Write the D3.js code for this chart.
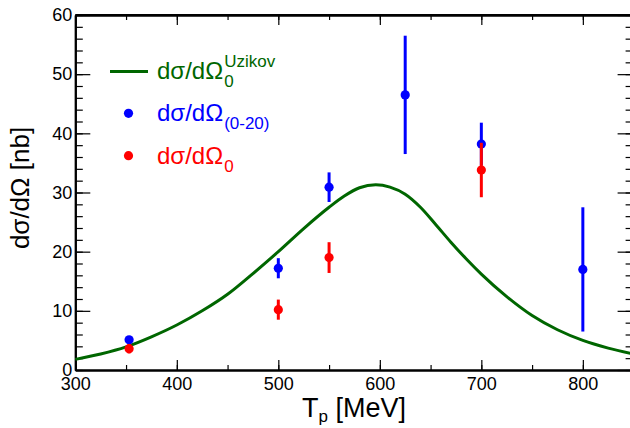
<!DOCTYPE html>
<html>
<head>
<meta charset="utf-8">
<script src="https://cdn.jsdelivr.net/npm/d3@7"></script>
<style>
  html, body { margin: 0; padding: 0; background: #fff; }
  svg { display: block; font-family: "Liberation Sans", Arial, Helvetica, sans-serif; }
</style>
</head>
<body>
<svg id="chart" width="630" height="428"></svg>
<script>
// Theory curve (Uzikov): beam kinetic energy [MeV] and cross section [nb]
const curveT = [300, 325, 350, 375, 400, 425, 450, 475, 500, 525, 550, 565, 580, 596, 610, 625, 640, 655, 670, 685, 700, 725, 750, 775, 800, 825, 850];
const curveXS = [1.8, 2.7, 3.9, 5.6, 7.6, 10.0, 12.8, 16.3, 20.0, 23.9, 27.5, 29.4, 30.8, 31.3, 30.9, 29.7, 27.5, 24.6, 21.6, 18.8, 16.2, 12.4, 9.2, 6.8, 5.0, 3.7, 2.7];

// Measured dσ/dΩ integrated over 0-20 degrees
const blueT = [353, 500, 550, 625, 700, 800];
const blueXS = [5.1, 17.2, 30.9, 46.5, 38.2, 17.0];
const blueErr = [0.6, 1.7, 2.5, 10.0, 3.6, 10.5];

// Measured dσ/dΩ at 0 degrees
const redT = [353, 500, 550, 700];
const redXS = [3.6, 10.2, 19.0, 33.8];
const redErr = [0.8, 1.7, 2.6, 4.6];

const xTicks = [300, 400, 500, 600, 700, 800];
const yTicks = [0, 10, 20, 30, 40, 50, 60];

const GREEN = "#006600", BLUE = "#0000ff", RED = "#ff0000";

const svg = d3.select("#chart");
const x = d3.scaleLinear().domain([300, 850]).range([75.3, 633.6]);
const y = d3.scaleLinear().domain([0, 60]).range([370, 15]);

const xMinor = d3.range(300, 851, 50);
const yMinor = d3.range(0, 61, 2);

// Frame: top and right edges
svg.append("line").attr("x1", x(300)).attr("x2", x(850)).attr("y1", y(60)).attr("y2", y(60))
  .attr("stroke", "#000").attr("stroke-width", 2);
svg.append("line").attr("x1", x(850)).attr("x2", x(850)).attr("y1", y(0)).attr("y2", y(60))
  .attr("stroke", "#000").attr("stroke-width", 2);

function styleAxis(g) {
  g.select(".domain").attr("stroke", "#000").attr("stroke-width", 2);
  g.selectAll(".tick line").attr("stroke", "#000").attr("stroke-width", 1.2);
  g.selectAll(".tick text").attr("fill", "#000").attr("font-size", 18)
    .attr("font-family", "'Liberation Sans', Arial, sans-serif");
}

// Bottom axis (labels) + minor ticks
svg.append("g").attr("transform", `translate(0,${y(0)})`)
  .call(d3.axisBottom(x).tickValues(xMinor).tickFormat("").tickSizeInner(-5).tickSizeOuter(0))
  .call(styleAxis);
svg.append("g").attr("transform", `translate(0,${y(0)})`)
  .call(d3.axisBottom(x).tickValues(xTicks).tickFormat(d3.format("d")).tickSizeInner(-10).tickSizeOuter(0).tickPadding(7))
  .call(styleAxis);

// Top axis ticks
svg.append("g").attr("transform", `translate(0,${y(60)})`)
  .call(d3.axisTop(x).tickValues(xMinor).tickFormat("").tickSizeInner(-5).tickSizeOuter(0))
  .call(styleAxis);
svg.append("g").attr("transform", `translate(0,${y(60)})`)
  .call(d3.axisTop(x).tickValues(xTicks).tickFormat("").tickSizeInner(-10).tickSizeOuter(0))
  .call(styleAxis);

// Left axis (labels) + minor ticks
svg.append("g").attr("transform", `translate(${x(300)},0)`)
  .call(d3.axisLeft(y).tickValues(yMinor).tickFormat("").tickSizeInner(-7.5).tickSizeOuter(0))
  .call(styleAxis);
svg.append("g").attr("transform", `translate(${x(300)},0)`)
  .call(d3.axisLeft(y).tickValues(yTicks).tickFormat(d3.format("d")).tickSizeInner(-15).tickSizeOuter(0).tickPadding(3))
  .call(styleAxis);

// Right axis ticks
svg.append("g").attr("transform", `translate(${x(850)},0)`)
  .call(d3.axisRight(y).tickValues(yMinor).tickFormat("").tickSizeInner(-8).tickSizeOuter(0))
  .call(styleAxis);
svg.append("g").attr("transform", `translate(${x(850)},0)`)
  .call(d3.axisRight(y).tickValues(yTicks).tickFormat("").tickSizeInner(-16).tickSizeOuter(0))
  .call(styleAxis);

// Theory curve
const line = d3.line().x((d, i) => x(curveT[i])).y(d => y(d)).curve(d3.curveMonotoneX);
svg.append("path").datum(curveXS).attr("d", line)
  .attr("fill", "none").attr("stroke", GREEN).attr("stroke-width", 3);

// Data points with error bars
function drawPoints(ts, vals, errs, color) {
  const g = svg.append("g");
  ts.forEach((t, i) => {
    g.append("line").attr("x1", x(t)).attr("x2", x(t))
      .attr("y1", y(vals[i] - errs[i])).attr("y2", y(vals[i] + errs[i]))
      .attr("stroke", color).attr("stroke-width", 3);
    g.append("circle").attr("cx", x(t)).attr("cy", y(vals[i])).attr("r", 4.6).attr("fill", color);
  });
}
drawPoints(blueT, blueXS, blueErr, BLUE);
drawPoints(redT, redXS, redErr, RED);

// Axis titles
const yTitle = svg.append("text").attr("transform", "translate(29,188) rotate(-90)")
  .attr("text-anchor", "middle").attr("font-size", 26).attr("fill", "#000");
yTitle.text("dσ/dΩ [nb]");

const xTitle = svg.append("text").attr("x", 354).attr("y", 417)
  .attr("text-anchor", "middle").attr("font-size", 27).attr("fill", "#000");
xTitle.append("tspan").text("T");
xTitle.append("tspan").attr("font-size", 17).attr("dy", 5).text("p");
xTitle.append("tspan").attr("dy", -5).text(" [MeV]");

// Legend
function legendLabel(yBase, color, sub, sup) {
  const main = svg.append("text").attr("x", 157).attr("y", yBase)
    .attr("font-size", 24).attr("fill", color).text("dσ/dΩ");
  const w = main.node().getComputedTextLength();
  if (sub) svg.append("text").attr("x", 157 + w + 1).attr("y", yBase + 8)
    .attr("font-size", 17).attr("fill", color).text(sub);
  if (sup) svg.append("text").attr("x", 157 + w + 1).attr("y", yBase - 12)
    .attr("font-size", 17).attr("fill", color).text(sup);
}
svg.append("line").attr("x1", 110).attr("x2", 148).attr("y1", 71.5).attr("y2", 71.5)
  .attr("stroke", GREEN).attr("stroke-width", 3);
legendLabel(79, GREEN, "0", "Uzikov");
svg.append("circle").attr("cx", 128.5).attr("cy", 113.3).attr("r", 4.6).attr("fill", BLUE);
legendLabel(121, BLUE, "(0-20)", null);
svg.append("circle").attr("cx", 128.5).attr("cy", 155.7).attr("r", 4.6).attr("fill", RED);
legendLabel(163.5, RED, "0", null);
</script>
</body>
</html>
